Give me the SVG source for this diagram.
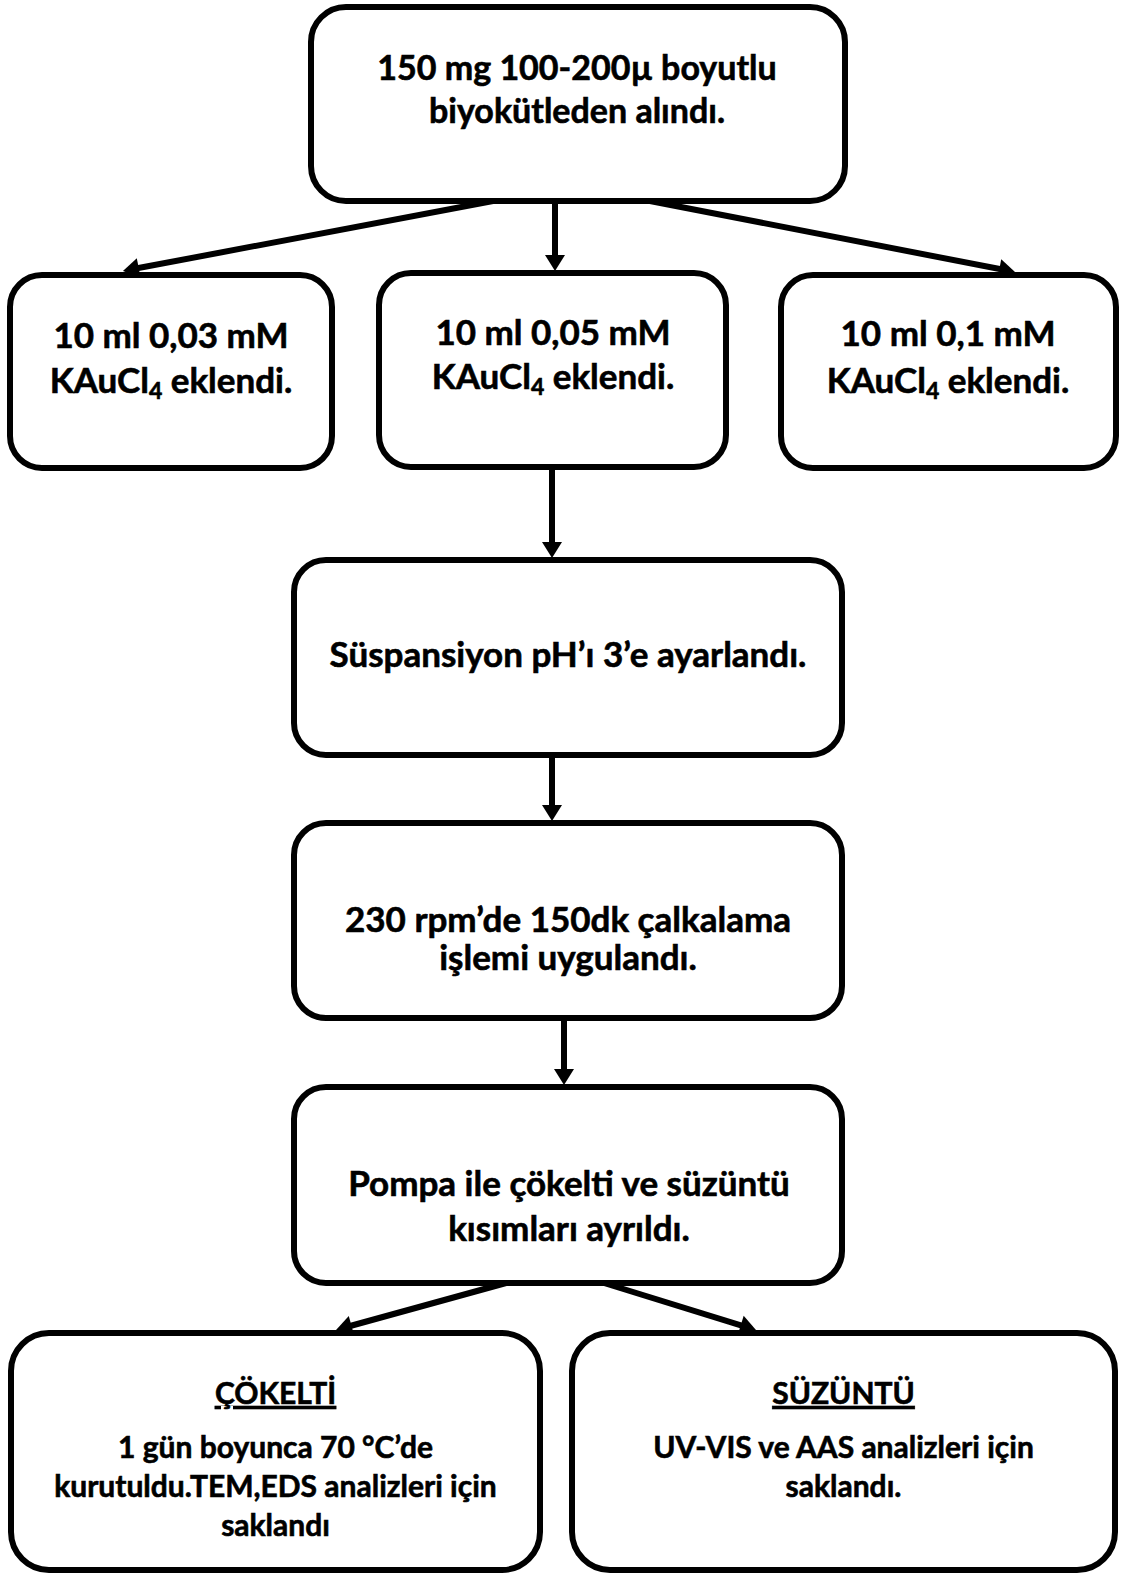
<svg xmlns="http://www.w3.org/2000/svg" width="1121" height="1573" viewBox="0 0 1121 1573">
<style>
.box{fill:#fff;stroke:#000;stroke-width:6}
.t{font-family:Lato,"Liberation Sans",sans-serif;font-weight:700;font-size:35px;fill:#000;stroke:#000;stroke-width:0.6;text-anchor:middle}
.h{font-size:34px}
.s{font-size:30px}
.u{text-decoration:underline}
.c{fill:none;stroke:#000;stroke-width:6;marker-end:url(#ah)}
</style>
<defs>
<marker id="ah" markerUnits="userSpaceOnUse" markerWidth="16" markerHeight="20" refX="7" refY="10" orient="auto" overflow="visible">
<path d="M0,0 L16,10 L0,20 Z" fill="#000"/>
</marker>
</defs>
<rect width="1121" height="1573" fill="#fff"/>
<g id="connectors">
<line class="c" x1="493" y1="201" x2="131.8" y2="269.3"/>
<line class="c" x1="555" y1="201" x2="555" y2="262"/>
<line class="c" x1="650" y1="201" x2="1006.2" y2="270.3"/>
<line class="c" x1="552" y1="467" x2="552" y2="549"/>
<line class="c" x1="552" y1="755" x2="552" y2="812"/>
<line class="c" x1="564" y1="1018" x2="564" y2="1076"/>
<line class="c" x1="506" y1="1283" x2="344.7" y2="1327.5"/>
<line class="c" x1="604" y1="1283" x2="747.4" y2="1327.4"/>
</g>
<g id="n1">
<rect class="box" x="311" y="7" width="534" height="194" rx="35"/>
<text class="t h" x="577" y="80">150 mg 100-200µ boyutlu</text>
<text class="t h" x="577" y="123">biyokütleden alındı.</text>
</g>
<g id="n2">
<rect class="box" x="10" y="275" width="322" height="193" rx="32"/>
<text class="t" x="171" y="348">10 ml 0,03 mM</text>
<text class="t" x="171" y="393">KAuCl<tspan font-size="23" dy="6">4</tspan><tspan dy="-6"> eklendi.</tspan></text>
</g>
<g id="n3">
<rect class="box" x="379" y="273" width="347" height="194" rx="32"/>
<text class="t" x="553" y="345">10 ml 0,05 mM</text>
<text class="t" x="553" y="389">KAuCl<tspan font-size="23" dy="6">4</tspan><tspan dy="-6"> eklendi.</tspan></text>
</g>
<g id="n4">
<rect class="box" x="781" y="275" width="335" height="193" rx="32"/>
<text class="t" x="948" y="346">10 ml 0,1 mM</text>
<text class="t" x="948" y="393">KAuCl<tspan font-size="23" dy="6">4</tspan><tspan dy="-6"> eklendi.</tspan></text>
</g>
<g id="n5">
<rect class="box" x="294" y="560" width="548" height="195" rx="32"/>
<text class="t" x="568" y="667">Süspansiyon pH’ı 3’e ayarlandı.</text>
</g>
<g id="n6">
<rect class="box" x="294" y="823" width="548" height="195" rx="32"/>
<text class="t" x="568" y="932">230 rpm’de 150dk çalkalama</text>
<text class="t" x="568" y="970">işlemi uygulandı.</text>
</g>
<g id="n7">
<rect class="box" x="294" y="1087" width="548" height="196" rx="32"/>
<text class="t" x="569" y="1196">Pompa ile çökelti ve süzüntü</text>
<text class="t" x="569" y="1241">kısımları ayrıldı.</text>
</g>
<g id="n8">
<rect class="box" x="11" y="1333" width="529" height="237" rx="38"/>
<text class="t s u" x="275.5" y="1404">ÇÖKELTİ</text>
<text class="t s" x="275.5" y="1458">1 gün boyunca 70 °C’de</text>
<text class="t s" x="275.5" y="1497">kurutuldu.TEM,EDS analizleri için</text>
<text class="t s" x="275.5" y="1536">saklandı</text>
</g>
<g id="n9">
<rect class="box" x="572" y="1333" width="543" height="237" rx="38"/>
<text class="t s u" x="843.5" y="1404">SÜZÜNTÜ</text>
<text class="t s" x="843.5" y="1458">UV-VIS ve AAS analizleri için</text>
<text class="t s" x="843.5" y="1497">saklandı.</text>
</g>
</svg>
